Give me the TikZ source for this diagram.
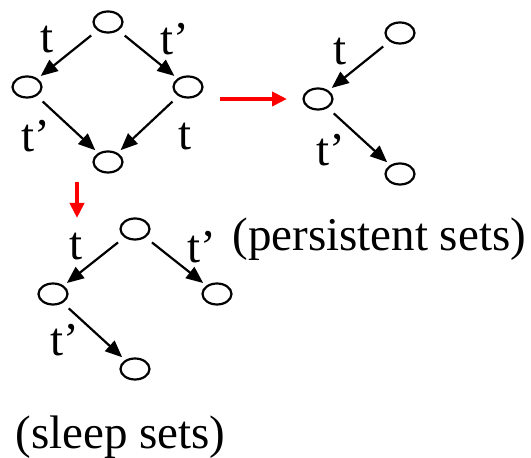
\documentclass[tikz,border=0pt]{standalone}
\usepackage{fontspec}
\setmainfont{Liberation Serif}
\usetikzlibrary{arrows.meta, shapes.geometric}
\definecolor{cR}{RGB}{255,0,0}

\begin{document}
\begin{tikzpicture}[x=0.5pt, y=-0.5pt,
    state/.style={draw, ellipse, line width=1.1pt, minimum width=14.5pt, minimum height=10.5pt, inner sep=0pt},
    trans/.style={-{Triangle[length=8.5pt, width=7pt]}, line width=1.1pt, shorten >=2pt, shorten <=4pt},
    move/.style={-{Triangle[length=7.5pt, width=7pt]}, line width=2.3pt, draw=cR, fill=cR},
    lbl/.style={font=\fontsize{23.5}{28}\selectfont, inner sep=0pt}]
    \useasboundingbox (0,0) rectangle (531,458);

    % full state space (diamond)
    \node[state] (d0) at (108,22) {};
    \node[state] (d1) at (27,87) {};
    \node[state] (d2) at (188,87) {};
    \node[state] (d3) at (108,162) {};
    \draw[trans] (d0) -- (d1);
    \draw[trans] (d0) -- (d2);
    \draw[trans] (d1) -- (d3);
    \draw[trans] (d2) -- (d3);
    \node[lbl] (ld1) at (47,40) {t};
    \node[lbl] (ld2) at (175,39) {t’};
    \node[lbl] (ld3) at (36,136) {t’};
    \node[lbl] (ld4) at (185,137) {t};

    % reduction arrows
    \coordinate (r0) at (220,99);
    \coordinate (r1) at (287,99);
    \draw[move] (r0) -- (r1);
    \coordinate (s0) at (77,182);
    \coordinate (s1) at (77,218);
    \draw[move] (s0) -- (s1);

    % persistent sets
    \node[state] (p0) at (400,33) {};
    \node[state] (p1) at (318,99) {};
    \node[state] (p2) at (400,174) {};
    \draw[trans] (p0) -- (p1);
    \draw[trans] (p1) -- (p2);
    \node[lbl] (lp1) at (340,52) {t};
    \node[lbl] (lp2) at (331,150) {t’};
    \node[lbl, anchor=west] (tp) at (232,239) {(persistent sets)};

    % sleep sets
    \node[state] (q0) at (135,229) {};
    \node[state] (q1) at (53,294) {};
    \node[state] (q2) at (217,294) {};
    \node[state] (q3) at (135,369) {};
    \draw[trans] (q0) -- (q1);
    \draw[trans] (q0) -- (q2);
    \draw[trans] (q1) -- (q3);
    \node[lbl] (lq1) at (76,247) {t};
    \node[lbl] (lq2) at (202,247) {t’};
    \node[lbl] (lq3) at (65,340) {t’};
    \node[lbl, anchor=west] (tq) at (15,437) {(sleep sets)};
\end{tikzpicture}
\end{document}
